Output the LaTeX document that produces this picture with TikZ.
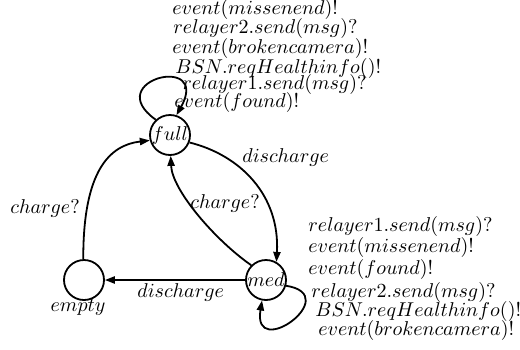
\documentclass[tikz,border=0pt]{standalone}
\usetikzlibrary{arrows.meta}
\begin{document}
\begin{tikzpicture}[x=0.5pt,y=-0.5pt,
  state/.style={circle,draw,line width=0.9pt,minimum size=20pt,inner sep=0pt},
  edge/.style={line width=0.9pt,-{Triangle[length=5pt,width=3.6pt]}},
  lbl/.style={inner sep=0pt,anchor=west}]
\useasboundingbox (0,0) rectangle (520,349);

% locations
\node[state] (full)  at (170,135) {\makebox[0pt]{$full$}};
\node[state] (empty) at (84,280)  {};
\node[state] (med)   at (266,280) {\makebox[0pt]{$med$}};
\node (emptyname) at (78,307) {$empty$};

% transitions
\draw[edge] (full.133) .. controls (100,80) and (211,53) .. (full.72);
\draw[edge] (full.-21) .. controls (240,155) and (280,195) .. (med.60);
\draw[edge] (med.135) .. controls (215,240) and (172,190) .. (full.-88);
\draw[edge] (empty.92) .. controls (83,170) and (110,145) .. (full.195);
\draw[edge] (med.west) -- (empty.east);
\draw[edge] (med.-16) .. controls (345,295) and (252,362) .. (med.259);

% self-loop of full
\node[lbl] (f1) at (172,9)   {$event(missenend)!$};
\node[lbl] (f2) at (173,28)  {$relayer2.send(msg)?$};
\node[lbl] (f3) at (172,48)  {$event(brokencamera)!$};
\node[lbl] (f4) at (175,68)  {$BSN.reqHealthinfo()!$};
\node[lbl] (f5) at (182,84)  {$relayer1.send(msg)?$};
\node[lbl] (f6) at (174,102) {$event(found)!$};

% self-loop of med
\node[lbl] (m1) at (308,226) {$relayer1.send(msg)?$};
\node[lbl] (m2) at (308,247) {$event(missenend)!$};
\node[lbl] (m3) at (308,269) {$event(found)!$};
\node[lbl] (m4) at (311,292) {$relayer2.send(msg)?$};
\node[lbl] (m5) at (315,311) {$BSN.reqHealthinfo()!$};
\node[lbl] (m6) at (318,330) {$event(brokencamera)!$};

% other guards and actions
\node[lbl] (dis1) at (242,157) {$discharge$};
\node[lbl] (chg1) at (190,203) {$charge?$};
\node[lbl] (chg2) at (10,208)  {$charge?$};
\node[lbl] (dis2) at (137,292) {$discharge$};
\end{tikzpicture}
\end{document}
